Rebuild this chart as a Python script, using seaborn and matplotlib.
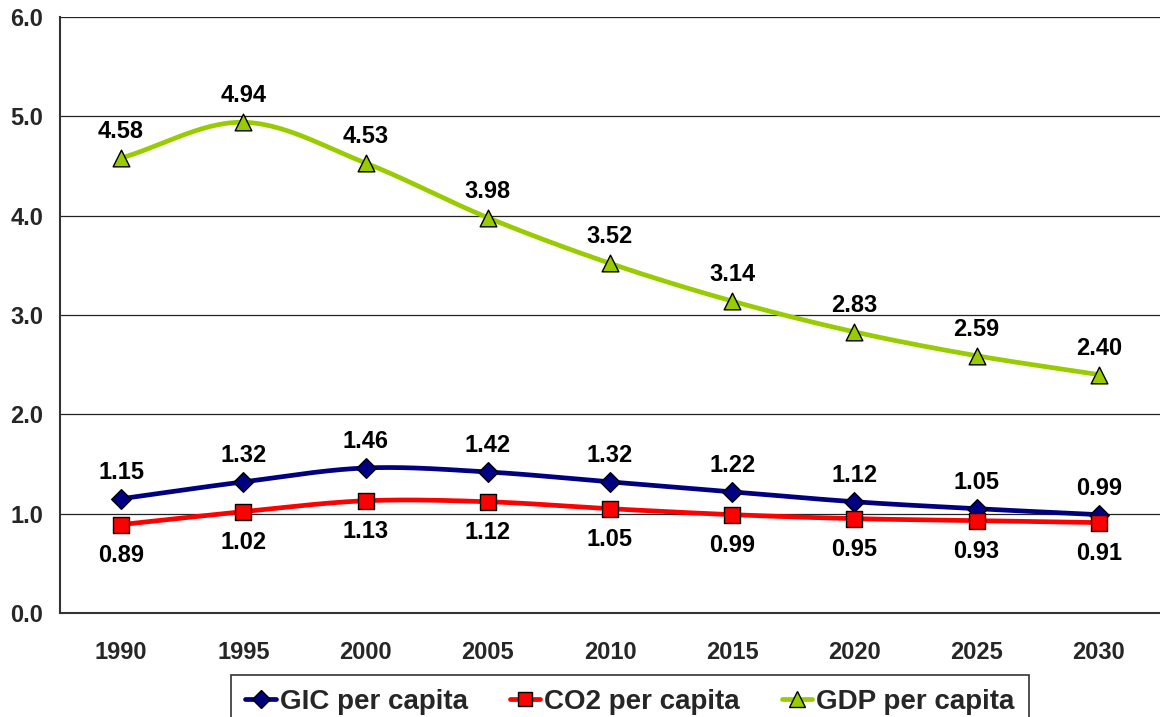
import numpy as np
import pandas as pd
import matplotlib
matplotlib.use("Agg")
import matplotlib.pyplot as plt
from matplotlib.lines import Line2D
import seaborn as sns

years = ["1990", "1995", "2000", "2005", "2010", "2015", "2020", "2025", "2030"]
gic = [1.15, 1.32, 1.46, 1.42, 1.32, 1.22, 1.12, 1.05, 0.99]
co2 = [0.89, 1.02, 1.13, 1.12, 1.05, 0.99, 0.95, 0.93, 0.91]
gdp = [4.58, 4.94, 4.53, 3.98, 3.52, 3.14, 2.83, 2.59, 2.40]
series_names = ["GIC per capita", "CO2 per capita", "GDP per capita"]
colors = ["#000080", "#FF0000", "#99CC00"]
markers = ["D", "s", "^"]
msizes = [10, 11, 12]
label_offset = [19, -22, 19]
yticks = [0.0, 1.0, 2.0, 3.0, 4.0, 5.0, 6.0]

sns.set_style("white")
plt.rcParams['font.family'] = ['Liberation Sans', 'DejaVu Sans']
plt.rcParams['font.weight'] = 'bold'

fig = plt.figure(figsize=(11.6, 7.17), dpi=100)
ax = fig.add_axes([60/1160, (717-613)/717, 1100/1160, 596/717])


def smooth(vals, n=30):
    y = np.asarray(vals, float)
    m = len(y)
    xs, ys = [], []
    for i in range(m - 1):
        p0 = y[i - 1] if i > 0 else y[i]
        p1, p2 = y[i], y[i + 1]
        p3 = y[i + 2] if i + 2 < m else y[i + 1]
        t1 = (p2 - p0) / 2 if i > 0 else (p2 - p1)
        t2 = (p3 - p1) / 2 if i + 2 < m else (p2 - p1)
        t = np.linspace(0, 1, n, endpoint=False)
        h00 = 2*t**3 - 3*t**2 + 1
        h10 = t**3 - 2*t**2 + t
        h01 = -2*t**3 + 3*t**2
        h11 = t**3 - t**2
        xs.extend(i + t)
        ys.extend(h00*p1 + h10*t1 + h01*p2 + h11*t2)
    xs.append(m - 1)
    ys.append(y[-1])
    return np.array(xs), np.array(ys)


xpos = np.arange(len(years))
handles = []
for vals, name, c, mk, ms, off in zip([gic, co2, gdp], series_names, colors, markers, msizes, label_offset):
    sx, sy = smooth(vals)
    dfl = pd.DataFrame({"x": sx, "y": sy})
    sns.lineplot(data=dfl, x="x", y="y", ax=ax, color=c, lw=3.4, zorder=3)
    dfp = pd.DataFrame({"x": xpos, "y": vals})
    sns.scatterplot(data=dfp, x="x", y="y", ax=ax, marker=mk, color=c, s=ms**2,
                    edgecolor="black", linewidth=1.0, zorder=4)
    for xi, v in zip(xpos, vals):
        ax.annotate(f"{v:.2f}", (xi, v), xytext=(0, off), textcoords="offset points",
                    ha="center", va="center", fontsize=17, fontweight="bold", color="black")
    handles.append(Line2D([0], [0], color=c, lw=3.4, marker=mk, markersize=ms*0.95,
                          markerfacecolor=c, markeredgecolor="black", markeredgewidth=1.0))

ax.set_xlim(-0.5, len(years) - 0.5)
ax.set_ylim(0, 6)
ax.set_yticks(yticks)
ax.set_yticklabels([f"{v:.1f}" for v in yticks], fontsize=17, fontweight="bold")
ax.set_xticks(xpos)
ax.set_xticklabels(years, fontsize=17, fontweight="bold")
ax.set_xticks(np.arange(-0.5, len(years)), minor=True)
ax.tick_params(axis="x", which="major", length=0, pad=20)
ax.tick_params(axis="x", which="minor", length=7, width=1.2, color="#333333", direction="out")
ax.tick_params(axis="y", length=6, width=1.2, color="#333333", direction="out", pad=6)
ax.set_xlabel("")
ax.set_ylabel("")
ax.grid(axis="y", color="#222222", lw=0.9)
ax.set_axisbelow(True)
for s in ["top", "right"]:
    ax.spines[s].set_visible(False)
for s in ["left", "bottom"]:
    ax.spines[s].set_color("#333333")
    ax.spines[s].set_linewidth(1.5)

leg = fig.legend(handles, series_names, loc="center", bbox_to_anchor=(630/1160, 1 - 702/717),
                 ncol=3, frameon=True, fancybox=False, edgecolor="black",
                 prop={"size": 20, "weight": "bold"}, handlelength=1.1, handletextpad=0.15,
                 columnspacing=1.5, borderpad=0.5)
leg.get_frame().set_linewidth(1.2)

fig.savefig("out.png", dpi=100)
